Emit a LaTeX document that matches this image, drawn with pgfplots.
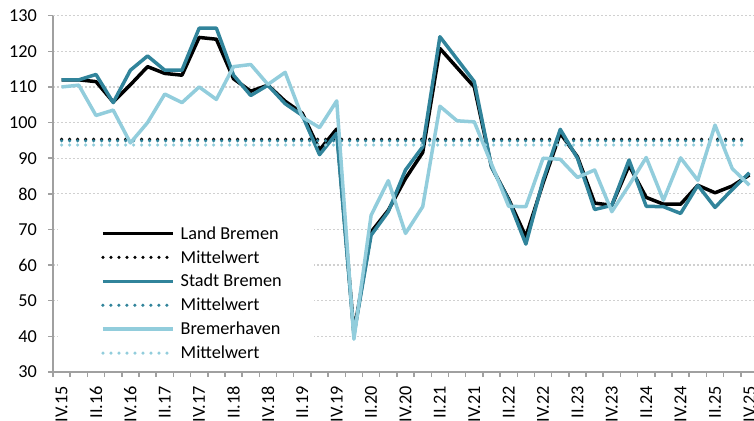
\documentclass[border=0pt]{standalone}
\usepackage{pgfplots}
\usepackage{pgfplotstable}
\pgfplotsset{compat=1.18}
\usepackage{fontspec}
\setmainfont{Carlito}
\definecolor{cTeal}{HTML}{31849B}
\definecolor{cLight}{HTML}{92CDDC}
\definecolor{cGrid}{HTML}{D0D0D0}
\definecolor{cAxis}{HTML}{A0A0A0}
\pgfplotstableread{
i land stadt bhv
0 112 112 110
1 112 112 110.5
2 111.5 113.5 102
3 105.8 105.6 103.5
4 110.6 114.7 94.3
5 115.7 118.7 100
6 113.8 114.7 108
7 113.3 114.7 105.6
8 123.9 126.5 110
9 123.4 126.5 106.5
10 112.3 113.3 115.7
11 108.8 107.6 116.3
12 110.5 110.5 110.7
13 106 105.3 114.1
14 102.6 102 101.5
15 92.3 91 98.6
16 98.2 97 106.1
17 41 40.5 39.2
18 69.3 68.4 74
19 75.4 75 83.7
20 84.3 86.7 68.9
21 91.6 93.2 76.4
22 120.8 124.1 104.6
23 115.4 117.8 100.5
24 110 111.5 100.2
25 87.6 87.6 88.4
26 78.5 78.2 76.5
27 68 65.9 76.4
28 83 83.8 90
29 97 98.1 89.7
30 90.4 90 84.6
31 77.4 75.6 86.7
32 76.8 76.8 75
33 88 89.5 82.4
34 79 76.5 90.2
35 77.1 76.4 78.2
36 77.1 74.5 90.1
37 82.4 82.4 83.8
38 80.3 76.2 99.3
39 82.2 81.2 87.1
40 85.3 85.9 82.4
}\datatable
\begin{document}
\begin{tikzpicture}
\begin{axis}[
  scale only axis, width=705bp, height=356.3bp,
  xmin=-0.5, xmax=40.5, ymin=30, ymax=130,
  axis x line*=bottom, axis y line*=left,
  x axis line style={draw=cAxis, line width=1.5bp, -},
  y axis line style={draw=cAxis, line width=2bp, -},
  ytick={30,40,...,130},
  xtick={-0.5,0.5,...,40.5},
  xticklabels={},
  extra x ticks={0,2,...,40},
  extra x tick labels={IV.15,II.16,IV.16,II.17,IV.17,II.18,IV.18,II.19,IV.19,II.20,IV.20,II.21,IV.21,II.22,IV.22,II.23,IV.23,II.24,IV.24,II.25,IV.25},
  extra x tick style={major tick length=0pt, grid=none},
  tick align=outside,
  major tick length=5bp,
  tick style={draw=cAxis, line width=1.5bp},
  ymajorgrids,
  major grid style={draw=cGrid, line width=1.3bp, dash pattern=on 2bp off 2bp},
  ticklabel style={font=\fontsize{18.3}{22}\selectfont},
  /pgf/number format/assume math mode=true,
  yticklabel style={inner sep=0pt, anchor=east, xshift=-11bp},
  xticklabel style={rotate=90, anchor=east, inner sep=0pt},
  xticklabel shift=14bp,
  clip=false,
  legend style={at={(axis cs:-0.21,72.6)}, anchor=north west, fill=white, draw=none,
    inner xsep=0pt, inner ysep=4bp, font=\fontsize{18.3}{22}\selectfont,
    row sep=5.8bp, column sep=4bp},
  legend cell align=left,
  legend image code/.code={\path (-43bp,0bp) (70bp,0bp); \draw[#1] (0bp,0bp) -- (70bp,0bp);},
  every axis plot/.append style={line join=round},
]
\addplot[black, line width=3.5bp] table[x=i, y=land] {\datatable};
\addlegendentry{Land Bremen}
\addplot[black, line width=3.5bp, line cap=round, dash pattern=on 0bp off 8bp] coordinates {(0,95.3) (40,95.3)};
\addlegendentry{Mittelwert}
\addplot[cTeal, line width=3.5bp] table[x=i, y=stadt] {\datatable};
\addlegendentry{Stadt Bremen\hspace*{30bp}}
\addplot[cTeal, line width=3.5bp, line cap=round, dash pattern=on 0bp off 8bp] coordinates {(0,94.9) (40,94.9)};
\addlegendentry{Mittelwert}
\addplot[cLight, line width=3.5bp] table[x=i, y=bhv] {\datatable};
\addlegendentry{Bremerhaven}
\addplot[cLight, line width=3.5bp, line cap=round, dash pattern=on 0bp off 8bp] coordinates {(0,93.7) (40,93.7)};
\addlegendentry{Mittelwert}
\end{axis}
\pgfresetboundingbox
\useasboundingbox (-53bp,-49bp) rectangle (701bp,372bp);
\end{tikzpicture}
\end{document}
